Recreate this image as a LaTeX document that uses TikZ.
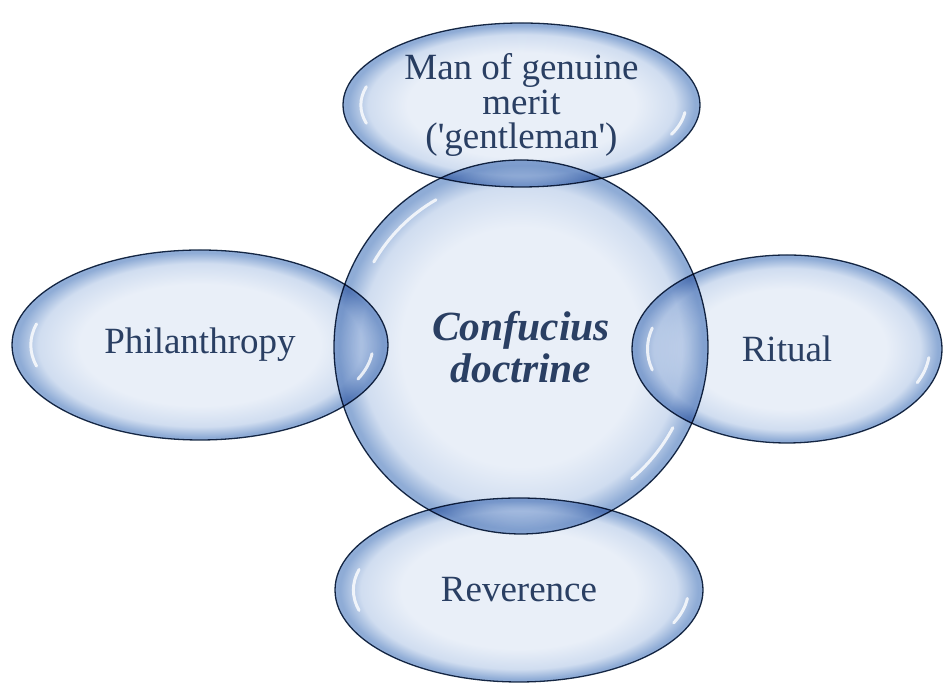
\documentclass[tikz,border=0pt]{standalone}
\usepackage{fontspec}
\newfontfamily\lsf{Liberation Serif}
\usetikzlibrary{shapes.geometric}
\definecolor{glassin}{HTML}{E9EFF8}
\definecolor{glassmid}{HTML}{D0DDF0}
\definecolor{glassrim}{HTML}{8FACD6}
\definecolor{edgecol}{HTML}{1C2F4A}
\definecolor{txtcol}{HTML}{2E4466}
\pgfdeclareradialshading{glass}{\pgfpoint{0bp}{0bp}}{color(0bp)=(glassin); color(16bp)=(glassin); color(21.5bp)=(glassmid); color(24.3bp)=(glassrim); color(25bp)=(glassrim); color(50bp)=(glassrim)}
\tikzset{
  glassnode/.style={draw=edgecol, line width=1.3pt, shading=glass, text=txtcol,
    inner sep=0pt, align=center, font=\lsf\fontsize{37}{34.5}\selectfont},
  ell/.style={glassnode, ellipse},
  hilite/.style={draw=white, line width=3pt, line cap=round, opacity=0.8}
}
\begin{document}
\begin{tikzpicture}[x=1pt,y=1pt]
\useasboundingbox (0,0) rectangle (943,684);
\begin{scope}[blend mode=multiply]
\node[glassnode, circle, minimum size=374pt,
  font=\lsf\bfseries\itshape\fontsize{41.5}{42}\selectfont] (core) at (521,337) {Confucius\\doctrine};
\node[ell, minimum width=357pt, minimum height=164pt] (merit) at (521.5,579) {Man of genuine\\merit\\('gentleman')};
\node[ell, minimum width=376pt, minimum height=190pt] (phil) at (200,339) {Philanthropy};
\node[ell, minimum width=310pt, minimum height=188pt] (ritual) at (787,335) {Ritual};
\node[ell, minimum width=368pt, minimum height=184pt] (rev) at (519,94) {Reverence};
\end{scope}
% highlights
\draw[hilite] (core.center) ++(120:170) arc[start angle=120, end angle=150, radius=170];
\draw[hilite] (core.center) ++(-28:172) arc[start angle=-28, end angle=-50, radius=172];
\foreach \n/\rx/\ry in {merit/178.5/82, phil/188/95, ritual/155/94, rev/184/92}{
  \pgfmathsetmacro{\ax}{0.9*\rx}
  \pgfmathsetmacro{\ay}{0.86*\ry}
  \pgfmathsetmacro{\bx}{0.92*\rx}
  \pgfmathsetmacro{\by}{0.88*\ry}
  \draw[hilite] (\n.center) ++(165:{\ax} and {\ay}) arc[start angle=165, end angle=195, x radius=\ax, y radius=\ay];
  \draw[hilite] (\n.center) ++(-6:{\bx} and {\by}) arc[start angle=-6, end angle=-24, x radius=\bx, y radius=\by];
}
\end{tikzpicture}
\end{document}
